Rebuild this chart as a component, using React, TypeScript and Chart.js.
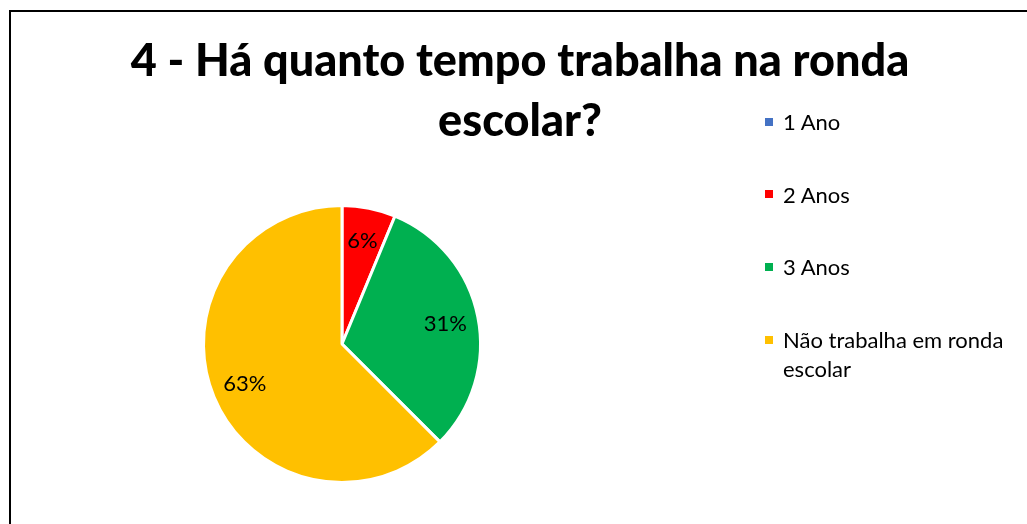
import React, { useEffect, useRef } from "react";
import { Chart, registerables } from "chart.js";

Chart.register(...registerables);

const categories = ["1 Ano", "2 Anos", "3 Anos", "Não trabalha em ronda escolar"];
const counts = [0, 1, 5, 10];
const colors = ["#4472C4", "#FF0000", "#00B050", "#FFC000"];
const titleLines = ["4 - Há quanto tempo trabalha na ronda", "escolar?"];

const labelPlugin = {
  id: "pctLabels",
  afterDatasetsDraw(chart: any) {
    const ctx = chart.ctx;
    const meta = chart.getDatasetMeta(0);
    const data = chart.data.datasets[0].data as number[];
    const total = data.reduce((a, b) => a + b, 0);
    ctx.save();
    ctx.font = "22px Lato";
    ctx.fillStyle = "#000";
    ctx.textAlign = "center";
    ctx.textBaseline = "middle";
    meta.data.forEach((arc: any, i: number) => {
      const v = data[i];
      if (!v) return;
      const { x, y, startAngle, endAngle, outerRadius } = arc.getProps(
        ["x", "y", "startAngle", "endAngle", "outerRadius"],
        true
      );
      const mid = (startAngle + endAngle) / 2;
      const r = outerRadius * 0.76;
      const pct = Math.round((v / total) * 100);
      ctx.fillText(pct + "%", x + Math.cos(mid) * r, y + Math.sin(mid) * r);
    });
    ctx.restore();
  },
};

export default function App() {
  const ref = useRef<HTMLCanvasElement>(null);
  useEffect(() => {
    if (!ref.current) return;
    const chart = new Chart(ref.current, {
      type: "pie",
      data: {
        labels: categories,
        datasets: [
          {
            data: counts,
            backgroundColor: colors,
            borderColor: "#FFFFFF",
            borderWidth: 3,
          },
        ],
      },
      options: {
        animation: false,
        responsive: false,
        radius: 138.5,
        layout: { padding: { left: 0, right: 343, top: 164, bottom: 0 } },
        plugins: {
          legend: { display: false },
          title: { display: false },
          tooltip: { enabled: false },
        },
      } as any,
      plugins: [labelPlugin],
    });
    return () => chart.destroy();
  }, []);

  return (
    <div
      style={{
        position: "fixed",
        left: 0,
        top: 0,
        width: 1027,
        height: 524,
        overflow: "hidden",
        background: "#fff",
      }}
    >
      <div
        style={{
          position: "absolute",
          left: 9,
          top: 10,
          width: 1100,
          height: 600,
          border: "2px solid #000",
        }}
      />
      <canvas
        ref={ref}
        width={1027}
        height={524}
        style={{ position: "absolute", left: 0, top: 0, width: 1027, height: 524 }}
      />
      <div
        style={{
          position: "absolute",
          left: 0,
          top: 29,
          width: 1040,
          textAlign: "center",
          fontFamily: "Lato",
          fontWeight: 900,
          fontSize: 45,
          lineHeight: "60px",
          color: "#000",
        }}
      >
        {titleLines.map((l, i) => (
          <div key={i}>{l}</div>
        ))}
      </div>
      <div
        style={{
          position: "absolute",
          left: 765,
          top: 107,
          fontFamily: "Lato",
          fontSize: 22,
          lineHeight: "29px",
          color: "#000",
          display: "flex",
          flexDirection: "column",
          gap: 43.7,
        }}
      >
        {categories.map((c, i) => (
          <div key={i} style={{ display: "flex", alignItems: "flex-start" }}>
            <span
              style={{
                display: "inline-block",
                width: 8,
                height: 8,
                marginTop: 10.5,
                marginRight: 10,
                background: colors[i],
                flex: "none",
              }}
            />
            <span style={{ width: 240 }}>{c}</span>
          </div>
        ))}
      </div>
    </div>
  );
}
